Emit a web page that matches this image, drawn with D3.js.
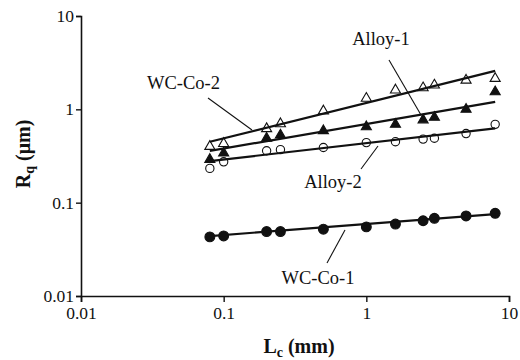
<!DOCTYPE html>
<html>
<head>
<meta charset="utf-8">
<script src="https://cdn.jsdelivr.net/npm/d3@7"></script>
<style>
  html, body { margin: 0; padding: 0; background: #fff; }
  svg { display: block; }
  svg text { font-family: "Liberation Serif", "Times New Roman", serif; }
</style>
</head>
<body>
<svg id="chart" width="520" height="360"></svg>
<script>
// Cut-off length Lc (mm) at which roughness was measured
const lc = [0.08, 0.1, 0.2, 0.25, 0.5, 1, 1.6, 2.5, 3, 5, 8];

// Measured Rq (µm) for each material
const wcCo2 = [0.40, 0.43, 0.62, 0.70, 0.96, 1.31, 1.61, 1.70, 1.82, 2.05, 2.14];
const alloy1 = [0.29, 0.34, 0.49, 0.53, 0.59, 0.65, 0.69, 0.77, 0.82, 1.00, 1.54];
const alloy2 = [0.233, 0.274, 0.36, 0.37, 0.39, 0.44, 0.45, 0.48, 0.49, 0.55, 0.69];
const wcCo1 = [0.043, 0.044, 0.049, 0.049, 0.052, 0.055, 0.059, 0.064, 0.068, 0.072, 0.077];

// Power-law trend lines, given at the ends of the measured range
const fitLc = [0.08, 8];
const fitWcCo2 = [0.449, 2.58];
const fitAlloy1 = [0.359, 1.20];
const fitAlloy2 = [0.279, 0.625];
const fitWcCo1 = [0.0439, 0.0755];

// Decade ticks on both axes
const xTicks = [0.01, 0.1, 1, 10];
const yTicks = [0.01, 0.1, 1, 10];
const tickFmt = d => String(d);

const serif = "'Liberation Serif', 'Times New Roman', serif";
const svg = d3.select("#chart");
const x = d3.scaleLog().domain([0.01, 10]).range([81, 509]);
const y = d3.scaleLog().domain([0.01, 10]).range([296, 16]);

const ink = "#111";

// Axes
const xAxis = svg.append("g")
  .attr("transform", `translate(0,${y(0.01)})`)
  .call(d3.axisBottom(x).tickValues(xTicks).tickFormat(tickFmt).tickSize(6).tickPadding(5));
const yAxis = svg.append("g")
  .attr("transform", `translate(${x(0.01)},0)`)
  .call(d3.axisLeft(y).tickValues(yTicks).tickFormat(tickFmt).tickSize(5).tickPadding(2));

[xAxis, yAxis].forEach(g => {
  g.attr("font-family", serif).attr("font-size", 17.5);
  g.select(".domain").attr("stroke", ink).attr("stroke-width", 1.6);
  g.selectAll(".tick line").attr("stroke", ink).attr("stroke-width", 1.4);
  g.selectAll(".tick text").attr("fill", ink);
});

// Series definitions
const series = [
  { vals: wcCo2, fit: fitWcCo2, shape: d3.symbolTriangle, fill: "#fff", size: 44 },
  { vals: alloy1, fit: fitAlloy1, shape: d3.symbolTriangle, fill: ink, size: 44 },
  { vals: alloy2, fit: fitAlloy2, shape: d3.symbolCircle, fill: "#fff", size: 54 },
  { vals: wcCo1, fit: fitWcCo1, shape: d3.symbolCircle, fill: ink, size: 76 }
];

const line = d3.line().x(d => x(d[0])).y(d => y(d[1]));

// Markers first, trend lines over them
series.forEach(s => {
  svg.append("g")
    .selectAll("path")
    .data(lc.map((v, i) => [v, s.vals[i]]))
    .join("path")
    .attr("transform", d => `translate(${x(d[0])},${y(d[1])})`)
    .attr("d", d3.symbol().type(s.shape).size(s.size))
    .attr("fill", s.fill)
    .attr("stroke", ink)
    .attr("stroke-width", 1.1);
});

series.forEach(s => {
  svg.append("path")
    .datum(fitLc.map((v, i) => [v, s.fit[i]]))
    .attr("d", line)
    .attr("fill", "none")
    .attr("stroke", ink)
    .attr("stroke-width", 2.2);
});

// Series labels with leader lines
const labels = [
  { text: "WC-Co-2", tx: 220, ty: 89, anchor: "end", l: [[208, 98], [252, 130]] },
  { text: "Alloy-1", tx: 381, ty: 45, anchor: "middle", l: [[389, 60], [421, 115]] },
  { text: "Alloy-2", tx: 333, ty: 188, anchor: "middle", l: [[361, 169], [378, 146]] },
  { text: "WC-Co-1", tx: 318, ty: 284, anchor: "middle", l: [[327, 263], [345, 230]] }
];

labels.forEach(d => {
  svg.append("line")
    .attr("x1", d.l[0][0]).attr("y1", d.l[0][1])
    .attr("x2", d.l[1][0]).attr("y2", d.l[1][1])
    .attr("stroke", ink).attr("stroke-width", 1.1);
  svg.append("text")
    .attr("x", d.tx).attr("y", d.ty)
    .attr("text-anchor", d.anchor)
    .attr("fill", ink)
    .attr("font-family", serif)
    .attr("font-size", 18.5)
    .text(d.text);
});

// Axis titles
const xTitle = svg.append("text")
  .attr("x", 299).attr("y", 353)
  .attr("text-anchor", "middle")
  .attr("fill", ink)
  .attr("font-family", serif)
  .attr("font-size", 20)
  .attr("font-weight", "bold");
xTitle.append("tspan").text("L");
xTitle.append("tspan").attr("dy", 4).attr("font-size", 14).text("c");
xTitle.append("tspan").attr("dy", -4).text(" (mm)");

const yTitle = svg.append("text")
  .attr("transform", "translate(30,154) rotate(-90)")
  .attr("text-anchor", "middle")
  .attr("fill", ink)
  .attr("font-family", serif)
  .attr("font-size", 20)
  .attr("font-weight", "bold");
yTitle.append("tspan").text("R");
yTitle.append("tspan").attr("dy", 4).attr("font-size", 14).text("q");
yTitle.append("tspan").attr("dy", -4).text(" (\u03bcm)");
</script>
</body>
</html>
